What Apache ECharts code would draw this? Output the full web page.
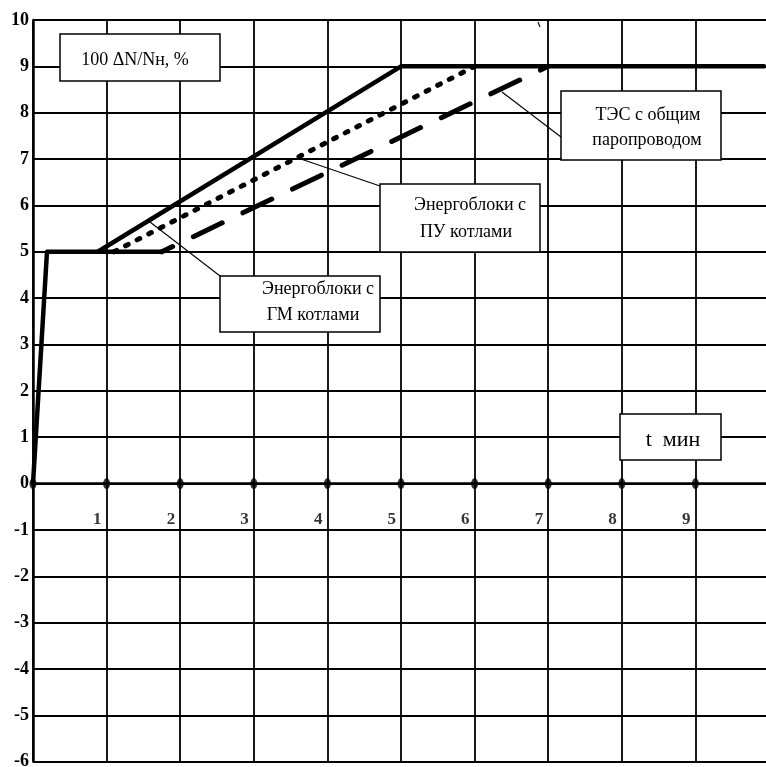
<!DOCTYPE html>
<html><head><meta charset="utf-8">
<script src="https://cdn.jsdelivr.net/npm/echarts@6/dist/echarts.min.js"></script>
<style>html,body{margin:0;padding:0;background:#fff}#c{width:766px;height:767px}</style>
</head><body><div id="c"></div>
<script>
// Data
const xLabels = [1, 2, 3, 4, 5, 6, 7, 8, 9];
const tickDots = [0, 1, 2, 3, 4, 5, 6, 7, 8, 9];
// Solid line (base ramp + fastest curve)
const solidX = [0, 0.19, 0.88, 5, 9.93];
const solidY = [0, 5, 5, 9, 9];
// Энергоблоки с ПУ котлами (dotted)
const puX = [1.1, 6];
const puY = [5, 9];
// Энергоблоки с ГМ котлами: flat part (solid) + rising part (dashed)
const gmFlatX = [0.88, 1.75];
const gmFlatY = [5, 5];
const gmX = [1.75, 7];
const gmY = [5, 9];

const zip = (xs, ys) => xs.map((x, i) => [x, ys[i]]);
const serif = '"Liberation Serif","Times New Roman",serif';

const chart = echarts.init(document.getElementById('c'), null, {renderer: 'canvas'});

function box(x, y, w, h) {
  return {type: 'rect', shape: {x, y, width: w, height: h}, style: {fill: '#fff', stroke: '#000', lineWidth: 1.5}, z: 100};
}
function txt(x, y, t, size) {
  return {type: 'text', x, y, style: {text: t, font: (size || 18) + 'px ' + serif, fill: '#000', align: 'center', verticalAlign: 'middle'}, z: 101};
}
function leader(x1, y1, x2, y2) {
  return {type: 'line', shape: {x1, y1, x2, y2}, style: {stroke: '#000', lineWidth: 1.1}, z: 99};
}

chart.setOption({
  animation: false,
  backgroundColor: '#fff',
  grid: {left: 33, top: 20, width: 736, height: 741.7, containLabel: false, outerBoundsMode: 'none'},
  xAxis: {
    type: 'value', min: 0, max: 10, interval: 1,
    axisLine: {onZero: true, lineStyle: {color: '#000', width: 2.5}},
    axisTick: {show: false},
    splitLine: {show: true, lineStyle: {color: '#000', width: 1.8}},
    axisLabel: {show: false}
  },
  yAxis: {
    type: 'value', min: -6, max: 10, interval: 1,
    axisLine: {show: true, onZero: false, lineStyle: {color: '#000', width: 2.5}},
    axisTick: {show: false},
    splitLine: {show: true, lineStyle: {color: '#000', width: 1.8}},
    axisLabel: {margin: 4, color: '#000', fontFamily: serif, fontWeight: 'bold', fontSize: 18}
  },
  series: [
    {type: 'line', data: zip(solidX, solidY), symbol: 'none', z: 5,
     lineStyle: {color: '#000', width: 4.5, cap: 'round', join: 'round'}},
    {type: 'line', data: zip(gmFlatX, gmFlatY), symbol: 'none', z: 5,
     lineStyle: {color: '#000', width: 4.5, cap: 'round'}},
    {type: 'line', data: zip(puX, puY), symbol: 'none', z: 5,
     lineStyle: {color: '#000', width: 5, type: [3, 10], cap: 'round'}},
    {type: 'line', data: zip(gmX, gmY), symbol: 'none', z: 5,
     lineStyle: {color: '#000', width: 5, type: [32, 23], dashOffset: 20, cap: 'round'}},
    {type: 'scatter', data: tickDots.map(v => [v, 0]), symbol: 'circle', symbolSize: [7, 11],
     itemStyle: {color: '#000'}, z: 6,
     label: {show: true, position: [-1.5, 33], align: 'right', verticalAlign: 'top',
       formatter: p => (xLabels.indexOf(p.value[0]) >= 0 ? String(p.value[0]) : ''),
       color: '#000', fontFamily: serif, fontWeight: 'bold', fontSize: 17}}
  ],
  graphic: [
    box(60, 34, 160, 47), txt(135, 60, '100 ΔN/Nн, %'),
    leader(502, 92, 561, 137),
    box(561, 91, 160, 69), txt(648, 115, 'ТЭС с общим'), txt(647, 140, 'паропроводом'),
    leader(298, 158, 380, 186),
    box(380, 184, 160, 68), txt(470, 205, 'Энергоблоки с'), txt(466, 232, 'ПУ котлами'),
    leader(150, 222, 220, 276),
    box(220, 276, 160, 56), txt(318, 289, 'Энергоблоки с'), txt(313, 315, 'ГМ котлами'),
    box(620, 414, 101, 46), txt(673, 440, 't  мин', 22),
    leader(538, 22, 540, 27)
  ]
});
</script></body></html>
